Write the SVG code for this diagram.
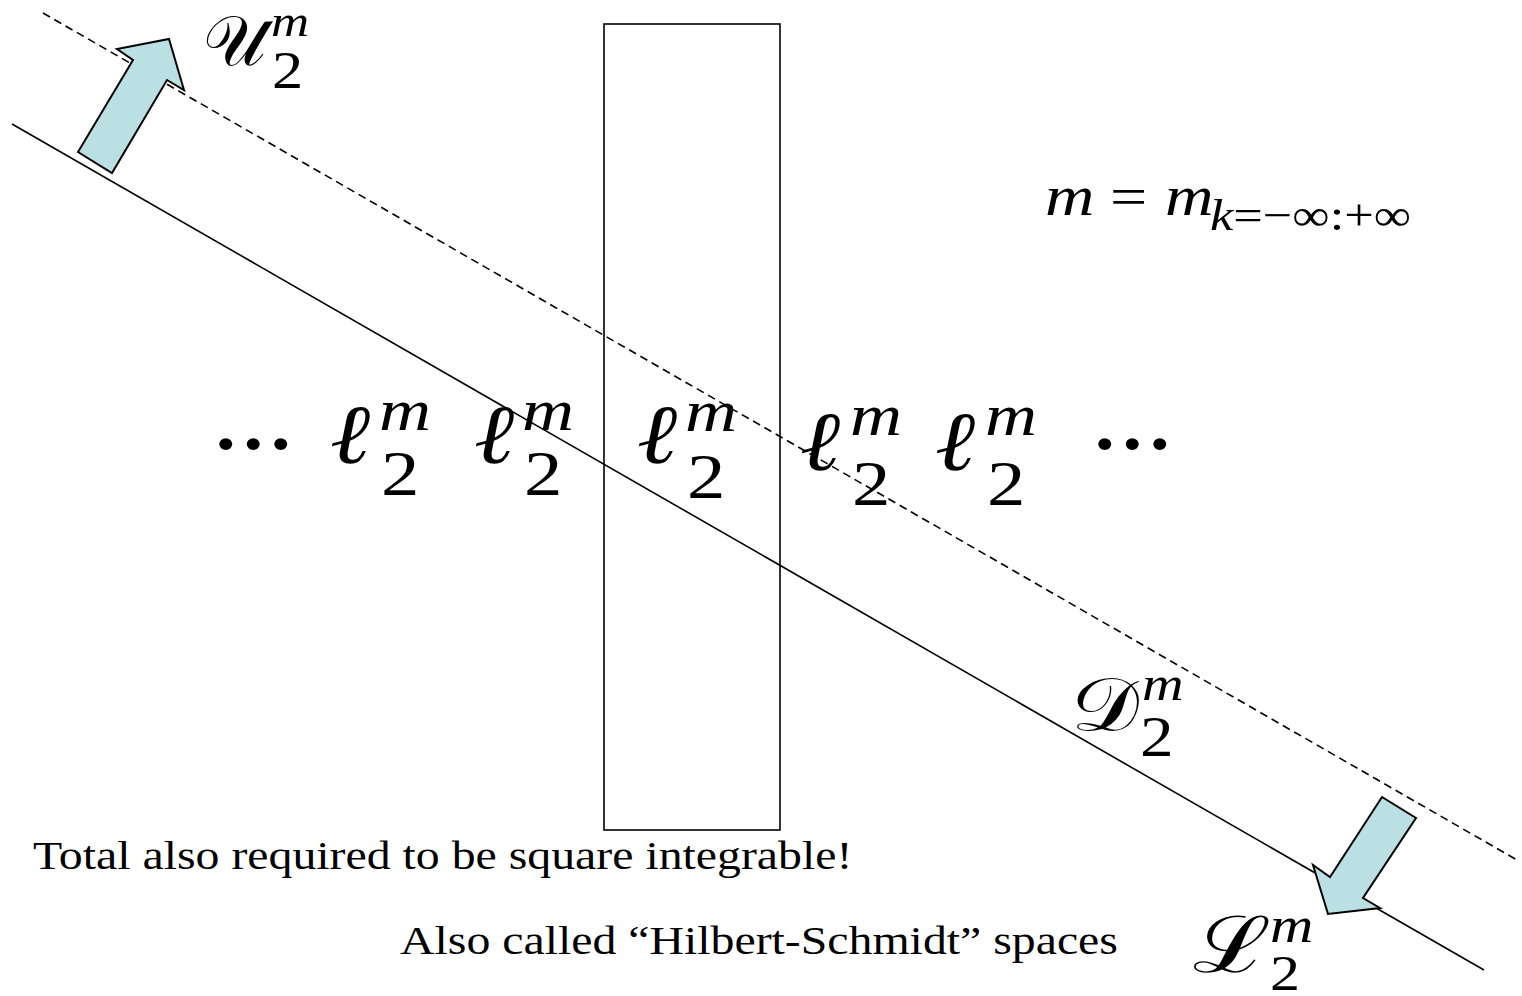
<svg xmlns="http://www.w3.org/2000/svg" width="1522" height="996" viewBox="0 0 1522 996">
<defs>
<style>
.arrow{fill:#bbe0e3;stroke:#000;stroke-width:2;stroke-linejoin:miter}
</style>
</defs>
<rect width="1522" height="996" fill="#fff"/>
<g id="connectors">
<line x1="12" y1="124" x2="1484" y2="970" stroke="#000" stroke-width="1.6"/>
<line x1="43" y1="13" x2="1517" y2="860" stroke="#000" stroke-width="1.6" stroke-dasharray="8,5"/>
</g>
<g id="box"><rect x="604" y="24" width="176" height="806" fill="none" stroke="#000" stroke-width="1.6"/></g>
<g id="arrow-up"><polygon class="arrow" points="78,152 133,60 117,49 169,39 184,90 167,80 112,173"/></g>
<g id="arrow-down"><polygon class="arrow" points="1382,797 1416,818 1363,898 1380,908 1328,914 1313,865 1330,877"/></g>
<g id="U-label">
<text x="203" y="65" font-family="Liberation Serif" font-size="70">𝒰</text>
<text transform="translate(271,36) scale(1.2,1)" font-family="Liberation Serif" font-style="italic" font-size="44">m</text>
<text transform="translate(272,88) scale(1.2,1)" font-family="Liberation Serif" font-size="52">2</text>
</g>
<g id="m-def">
<text transform="translate(1045,215) scale(1.2,1)" font-family="Liberation Serif" font-style="italic" font-size="57">m</text>
<text transform="translate(1110,215) scale(1.2,1)" font-family="Liberation Serif" font-size="55">=</text>
<text transform="translate(1165,215) scale(1.2,1)" font-family="Liberation Serif" font-style="italic" font-size="56">m</text>
<text transform="translate(1210,230) scale(1.19,1)" font-family="Liberation Serif" font-size="44"><tspan font-style="italic">k</tspan>=−∞:+∞</text>
</g>
<g id="ell-row">
<text transform="translate(212,449) scale(1.1,1)" font-family="Liberation Serif" font-size="100">...</text>
<text transform="translate(330,463) scale(1.15,1)" font-family="DejaVu Serif" font-style="italic" font-size="84">ℓ</text>
<text transform="translate(379,430) scale(1.2,1)" font-family="Liberation Serif" font-style="italic" font-size="60">m</text>
<text transform="translate(381,495) scale(1.2,1)" font-family="Liberation Serif" font-size="64">2</text>
<text transform="translate(474,463) scale(1.15,1)" font-family="DejaVu Serif" font-style="italic" font-size="84">ℓ</text>
<text transform="translate(522,430) scale(1.2,1)" font-family="Liberation Serif" font-style="italic" font-size="60">m</text>
<text transform="translate(524,495) scale(1.2,1)" font-family="Liberation Serif" font-size="64">2</text>
<text transform="translate(637,463) scale(1.15,1)" font-family="DejaVu Serif" font-style="italic" font-size="84">ℓ</text>
<text transform="translate(685,431) scale(1.2,1)" font-family="Liberation Serif" font-style="italic" font-size="60">m</text>
<text transform="translate(687,498) scale(1.2,1)" font-family="Liberation Serif" font-size="64">2</text>
<text transform="translate(800,470) scale(1.15,1)" font-family="DejaVu Serif" font-style="italic" font-size="84">ℓ</text>
<text transform="translate(850,435) scale(1.2,1)" font-family="Liberation Serif" font-style="italic" font-size="60">m</text>
<text transform="translate(852,505) scale(1.2,1)" font-family="Liberation Serif" font-size="64">2</text>
<text transform="translate(935,470) scale(1.15,1)" font-family="DejaVu Serif" font-style="italic" font-size="84">ℓ</text>
<text transform="translate(985,435) scale(1.2,1)" font-family="Liberation Serif" font-style="italic" font-size="60">m</text>
<text transform="translate(987,505) scale(1.2,1)" font-family="Liberation Serif" font-size="64">2</text>
<text transform="translate(1091,449) scale(1.1,1)" font-family="Liberation Serif" font-size="100">...</text>
</g>
<g id="D-label">
<text transform="translate(1071,730) scale(1.15,1)" font-family="Liberation Serif" font-size="74">𝒟</text>
<text transform="translate(1142,700) scale(1.2,1)" font-family="Liberation Serif" font-style="italic" font-size="48">m</text>
<text transform="translate(1140,756) scale(1.2,1)" font-family="Liberation Serif" font-size="56">2</text>
</g>
<g id="L-label">
<text transform="translate(1193,972) scale(1.2,1)" font-family="Liberation Serif" font-size="78">ℒ</text>
<text transform="translate(1270,942) scale(1.2,1)" font-family="Liberation Serif" font-style="italic" font-size="50">m</text>
<text transform="translate(1270,990) scale(1.2,1)" font-family="Liberation Serif" font-size="50">2</text>
</g>
<g id="notes">
<text transform="translate(33,869) scale(1.195,1)" font-family="Liberation Serif" font-size="40">Total also required to be square integrable!</text>
<text transform="translate(400,954) scale(1.195,1)" font-family="Liberation Serif" font-size="40">Also called “Hilbert-Schmidt” spaces</text>
</g>
</svg>
